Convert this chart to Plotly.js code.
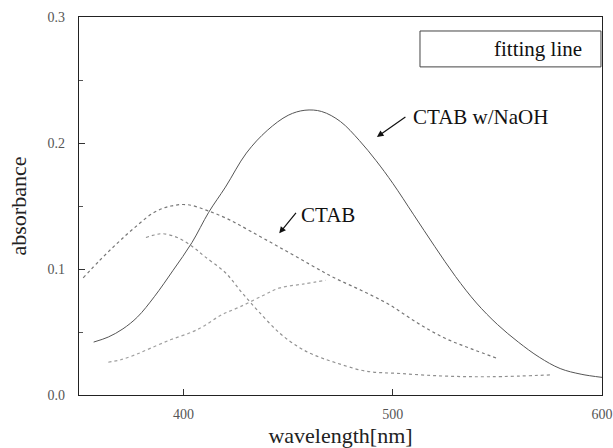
<!DOCTYPE html>
<html>
<head>
<meta charset="utf-8">
<script src="https://cdn.plot.ly/plotly-3.0.1.min.js"></script>
<style>html,body{margin:0;padding:0;background:#fff;}#chart{width:613px;height:448px;}</style>
</head>
<body>
<div id="chart"></div>
<script>
// wavelength [nm] / absorbance
const naohX = [357, 364, 371, 378, 386, 395, 404, 412, 420, 430, 440, 450, 458, 466, 475, 484, 492, 500, 510, 520, 530, 540, 550, 560, 570, 580, 590, 600];
const naohY = [0.042, 0.046, 0.0525, 0.062, 0.078, 0.099, 0.121, 0.145, 0.165, 0.192, 0.210, 0.222, 0.226, 0.225, 0.217, 0.202, 0.186, 0.168, 0.143, 0.118, 0.094, 0.073, 0.056, 0.042, 0.030, 0.021, 0.0165, 0.014];

const ctabX = [352, 360, 368, 376, 386, 394, 402, 412, 422, 432, 445, 460, 472, 485, 498, 512, 525, 537, 550];
const ctabY = [0.093, 0.107, 0.120, 0.132, 0.145, 0.150, 0.151, 0.146, 0.139, 0.130, 0.118, 0.104, 0.093, 0.083, 0.072, 0.057, 0.045, 0.037, 0.029];

const comp1X = [382, 386, 390, 397, 404, 410, 420, 428, 436, 446, 455, 462, 472, 487, 504, 525, 547, 576];
const comp1Y = [0.125, 0.127, 0.128, 0.125, 0.118, 0.110, 0.097, 0.081, 0.066, 0.049, 0.038, 0.032, 0.026, 0.019, 0.017, 0.015, 0.0145, 0.016];

const comp2X = [364, 370, 377, 384, 394, 404, 410, 418, 427, 438, 446, 457, 468];
const comp2Y = [0.026, 0.028, 0.032, 0.037, 0.044, 0.050, 0.055, 0.0635, 0.070, 0.079, 0.085, 0.088, 0.091];

const xTicks = [400, 500, 600];
const yTicks = [0.0, 0.1, 0.2, 0.3];

const serif = 'Liberation Serif';

const traces = [
  {x: comp2X, y: comp2Y, mode: 'lines', line: {color: '#a0a0a0', width: 1.2, dash: 'dot', shape: 'spline'}, showlegend: false},
  {x: comp1X, y: comp1Y, mode: 'lines', line: {color: '#909090', width: 1.2, dash: 'dot', shape: 'spline'}, showlegend: false},
  {x: ctabX, y: ctabY, mode: 'lines', line: {color: '#777', width: 1.2, dash: 'dot', shape: 'spline'}, showlegend: false},
  {x: naohX, y: naohY, mode: 'lines', line: {color: '#555', width: 1, shape: 'spline'}, showlegend: false}
];

const layout = {
  width: 613, height: 448,
  margin: {l: 79, r: 11, t: 17, b: 53},
  paper_bgcolor: '#fff', plot_bgcolor: '#fff',
  font: {family: serif, color: '#000'},
  showlegend: false,
  xaxis: {
    range: [350, 600], tickvals: xTicks, ticktext: xTicks.map(String),
    ticks: 'inside', ticklen: 6, tickcolor: '#333', tickwidth: 1,
    showline: true, linecolor: '#222', linewidth: 1.2, mirror: true,
    showgrid: false, zeroline: false,
    ticklabelstandoff: 6,
    tickfont: {family: serif, size: 14, color: '#555'},
    title: {text: 'wavelength[nm]', font: {family: serif, size: 22, color: '#222'}, standoff: 6}
  },
  yaxis: {
    range: [0, 0.3], tickvals: yTicks, ticktext: yTicks.map(v => v.toFixed(1)),
    ticks: 'inside', ticklen: 6, tickcolor: '#333', tickwidth: 1,
    minor: {dtick: 0.05, ticks: 'inside', ticklen: 4, tickcolor: '#555'},
    showline: true, linecolor: '#222', linewidth: 1.2, mirror: true,
    showgrid: false, zeroline: false,
    ticklabelstandoff: 10,
    tickfont: {family: serif, size: 14, color: '#555'},
    title: {text: 'absorbance', font: {family: serif, size: 22, color: '#222'}, standoff: 14}
  },
  shapes: [
    {type: 'rect', xref: 'paper', yref: 'paper', x0: 0.652, x1: 0.998, y0: 0.868, y1: 0.963,
     line: {color: '#444', width: 1}, fillcolor: 'rgba(0,0,0,0)'}
  ],
  annotations: [
    {xref: 'paper', yref: 'paper', x: 0.966, y: 0.915, xanchor: 'right', yanchor: 'middle',
     text: 'fitting line', showarrow: false, font: {family: serif, size: 21, color: '#111'}},
    {x: 508.6, y: 0.2206, xanchor: 'left', yanchor: 'middle', text: 'CTAB w/NaOH', showarrow: false,
     font: {family: serif, size: 21, color: '#111'}},
    {x: 492.4, y: 0.2048, text: '', showarrow: true, ax: 30, ay: -21, arrowhead: 2, arrowsize: 1.1, arrowwidth: 1.2, arrowcolor: '#111'},
    {x: 455.2, y: 0.1429, xanchor: 'left', yanchor: 'middle', text: 'CTAB', showarrow: false,
     font: {family: serif, size: 21, color: '#111'}},
    {x: 445.7, y: 0.1283, text: '', showarrow: true, ax: 18, ay: -22, arrowhead: 2, arrowsize: 1.1, arrowwidth: 1.2, arrowcolor: '#111'}
  ]
};

Plotly.newPlot('chart', traces, layout, {staticPlot: true, displayModeBar: false});
</script>
</body>
</html>
